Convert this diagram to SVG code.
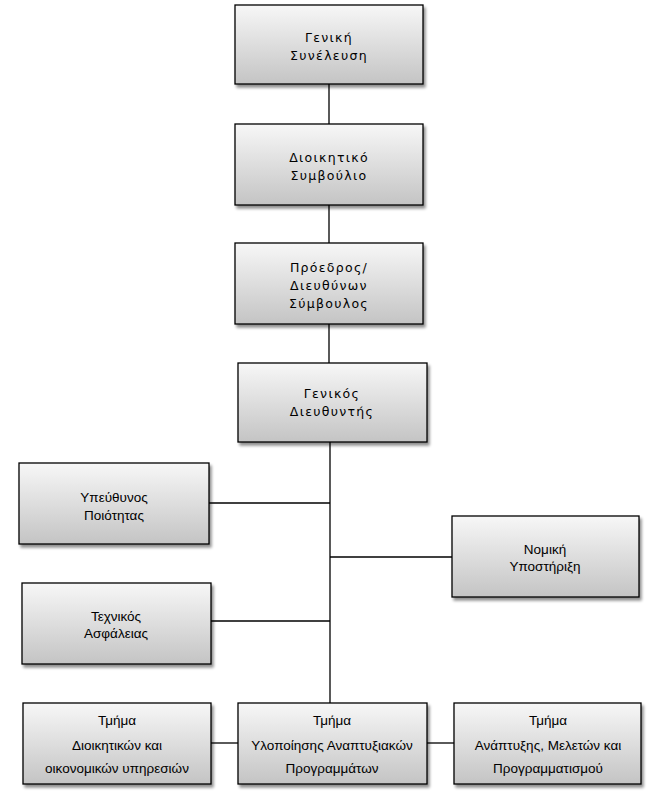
<svg xmlns="http://www.w3.org/2000/svg" width="666" height="801" viewBox="0 0 666 801">
<defs>
<linearGradient id="g" x1="0" y1="0" x2="0" y2="1">
<stop offset="0" stop-color="#f7f7f7"/>
<stop offset="1" stop-color="#c4c4c4"/>
</linearGradient>
<filter id="sh" x="-10%" y="-10%" width="125%" height="130%">
<feGaussianBlur in="SourceAlpha" stdDeviation="1.5"/>
<feOffset dx="2" dy="3" result="b"/>
<feComponentTransfer><feFuncA type="linear" slope="0.45"/></feComponentTransfer>
<feMerge><feMergeNode/><feMergeNode in="SourceGraphic"/></feMerge>
</filter>
</defs>
<style>
.box{fill:url(#g);stroke:#000;stroke-width:1.3;filter:url(#sh)}
.t1{font-family:"DejaVu Sans",sans-serif;font-size:12.5px;letter-spacing:1.3px;fill:#000;text-anchor:middle}
.t2{font-family:"Liberation Sans",sans-serif;font-size:13.5px;fill:#000;text-anchor:middle}
.c{stroke:#000;stroke-width:1.3;fill:none}
</style>
<rect width="666" height="801" fill="#fff"/>
<g id="connectors">
<line class="c" x1="329" y1="84" x2="329" y2="124"/>
<line class="c" x1="329" y1="205" x2="329" y2="243"/>
<line class="c" x1="329" y1="324" x2="329" y2="363"/>
<line class="c" x1="330" y1="442" x2="330" y2="703"/>
<line class="c" x1="209" y1="503" x2="330" y2="503"/>
<line class="c" x1="330" y1="557" x2="452" y2="557"/>
<line class="c" x1="211" y1="621" x2="330" y2="621"/>
<line class="c" x1="211" y1="743" x2="238" y2="743"/>
<line class="c" x1="427" y1="743" x2="454" y2="743"/>
</g>
<g id="n1"><rect class="box" x="235" y="5" width="188" height="79"/>
<text class="t1" x="329" y="42">Γενική</text><text class="t1" x="329" y="60">Συνέλευση</text></g>
<g id="n2"><rect class="box" x="235" y="124" width="188" height="81"/>
<text class="t1" x="329" y="162">Διοικητικό</text><text class="t1" x="329" y="180">Συμβούλιο</text></g>
<g id="n3"><rect class="box" x="235" y="243" width="188" height="81"/>
<text class="t1" x="329" y="272">Πρόεδρος/</text><text class="t1" x="329" y="290">Διευθύνων</text><text class="t1" x="329" y="308">Σύμβουλος</text></g>
<g id="n4"><rect class="box" x="238" y="363" width="189" height="79"/>
<text class="t1" x="332" y="398">Γενικός</text><text class="t1" x="332" y="416">Διευθυντής</text></g>
<g id="n5"><rect class="box" x="19" y="463" width="190" height="81"/>
<text class="t2" x="114" y="502">Υπεύθυνος</text><text class="t2" x="114" y="520">Ποιότητας</text></g>
<g id="n6"><rect class="box" x="452" y="516" width="187" height="81"/>
<text class="t2" x="545" y="554">Νομική</text><text class="t2" x="545" y="571">Υποστήριξη</text></g>
<g id="n7"><rect class="box" x="22" y="583" width="189" height="81"/>
<text class="t2" x="116" y="621">Τεχνικός</text><text class="t2" x="116" y="638">Ασφάλειας</text></g>
<g id="n8"><rect class="box" x="23" y="703" width="188" height="81"/>
<text class="t2" x="117" y="725">Τμήμα</text><text class="t2" x="117" y="750">Διοικητικών και</text><text class="t2" x="117" y="773">οικονομικών υπηρεσιών</text></g>
<g id="n9"><rect class="box" x="238" y="703" width="189" height="81"/>
<text class="t2" x="332" y="725">Τμήμα</text><text class="t2" x="332" y="750">Υλοποίησης Αναπτυξιακών</text><text class="t2" x="332" y="773">Προγραμμάτων</text></g>
<g id="n10"><rect class="box" x="454" y="703" width="187" height="81"/>
<text class="t2" x="548" y="725">Τμήμα</text><text class="t2" x="548" y="750">Ανάπτυξης, Μελετών και</text><text class="t2" x="548" y="773">Προγραμματισμού</text></g>
</svg>
